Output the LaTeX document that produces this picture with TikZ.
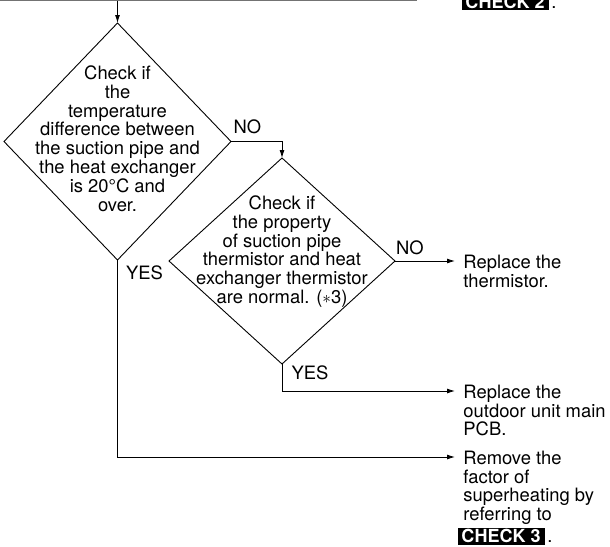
\documentclass[tikz,border=0pt]{standalone}
\usepackage{fontspec}
\setmainfont{TeX Gyre Heros}
\usetikzlibrary{shapes.geometric,arrows.meta}

\begin{document}
\begin{tikzpicture}[x=1pt,y=-1pt,line width=0.9pt,
        every node/.style={font=\fontsize{18.4}{18.8}\selectfont},
        chk/.style={diamond,draw,inner sep=0pt,outer sep=0pt},
        txt/.style={align=center,inner sep=0pt},
        act/.style={align=left,inner sep=0pt,anchor=north west},
        tag/.style={inner sep=0pt},
        ref/.style={fill=black,text=white,inner sep=0pt,
            font=\fontsize{18}{18.8}\selectfont\bfseries,
            minimum width=87pt,minimum height=17pt},
        go/.style={-{Latex[length=8pt,width=5pt]}},
        toact/.style={go,shorten >=8pt}]
        \useasboundingbox (0,0) rectangle (610,546);

        % Define centers
        \def\xa{117.5}
        \def\xb{282}
        \def\xr{463}

        % Line coming from above
        \draw[black!55] (0,0.5) -- (417,0.5);
        \coordinate (feed) at (\xa,0.5);
        \node[ref] (c2) at (505,1.5) {CHECK 2};
        \node[tag,anchor=base west] (d2) at ([xshift=2pt]c2.base east) {.};

        % Temperature difference check
        \node[chk,minimum width=227pt,minimum height=237pt] (q1) at (\xa,141.5) {};
        \node[txt] (q1t) at (\xa,138.5) {Check if\\the\\temperature\\difference between\\the suction pipe and\\the heat exchanger\\is 20°C and\\over.};

        % Thermistor check
        \node[chk,minimum width=226pt,minimum height=206pt] (q2) at (\xb,261) {};
        \node[txt] (q2t) at (\xb,251.5) {Check if\\the property\\of suction pipe\\thermistor and heat\\exchanger thermistor\\are normal. ($\ast$3)};

        % Answers
        \node[tag] (no1) at (247.5,127) {NO};
        \node[tag] (no2) at (410,248) {NO};
        \node[tag] (yes1) at (144.5,273) {YES};
        \node[tag] (yes2) at (310,373) {YES};

        % Results
        \coordinate (j2) at (\xb,391);
        \coordinate (j1) at (\xa,457);
        \node[act] (r1) at (\xr,254.4) {Replace the\\thermistor.};
        \node[act] (r2) at (\xr,384.4) {Replace the\\outdoor unit main\\PCB.};
        \node[act] (r3) at (\xr,450.4) {Remove the\\factor of\\superheating by\\referring to};
        \node[ref] (c3) at (501,536) {CHECK 3};
        \node[tag,anchor=base west] (d3) at ([xshift=2pt]c3.base east) {.};

        % Connectors
        \draw[go] (feed) -- (q1.north);
        \draw[go] (q1.east) -| (q2.north);
        \draw[toact] (q2.east) -- (q2.east -| r1.west);
        \draw[toact] (q2.south) -- (j2) -- (j2 -| r2.west);
        \draw[toact] (q1.south) -- (j1) -- (j1 -| r3.west);
    \end{tikzpicture}
\end{document}
